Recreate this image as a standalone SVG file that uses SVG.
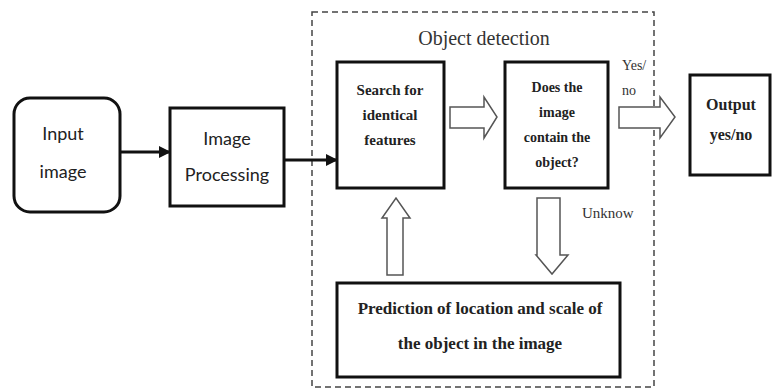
<svg xmlns="http://www.w3.org/2000/svg" width="773" height="392" viewBox="0 0 773 392">
<defs>
<style>
.box{fill:#fff;stroke:#111;stroke-width:3}
.sans{font-family:Lato,"Open Sans","Liberation Sans",sans-serif;font-size:18px;fill:#222;text-anchor:middle}
.serifb{font-family:"Liberation Serif","Times New Roman",serif;font-weight:bold;fill:#222;text-anchor:middle}
.serif{font-family:"Liberation Serif","Times New Roman",serif;fill:#333}
.hollow{fill:#fff;stroke:#555;stroke-width:1.5;stroke-linejoin:miter}
.line{stroke:#111;stroke-width:3;fill:none}
</style>
<marker id="ah" markerWidth="12" markerHeight="12" refX="11" refY="6" orient="auto" markerUnits="userSpaceOnUse">
<path d="M0,0 L12,6 L0,12 Z" fill="#111"/>
</marker>
</defs>
<rect width="773" height="392" fill="#fff"/>
<g id="object-detection">
<rect x="312" y="12" width="342" height="375" fill="none" stroke="#444" stroke-width="1.5" stroke-dasharray="6,4"/>
<text x="484" y="45" class="serif" font-size="20" text-anchor="middle">Object detection</text>
</g>
<g id="connectors">
<line x1="120" y1="152" x2="170" y2="152" class="line" marker-end="url(#ah)"/>
<line x1="284" y1="160" x2="337" y2="160" class="line" marker-end="url(#ah)"/>
<path class="hollow" d="M450,107 L484,107 L484,97 L497,117 L484,138 L484,128 L450,128 Z"/>
<path class="hollow" d="M619,107 L660,107 L660,97 L675,117 L660,138 L660,128 L619,128 Z"/>
<path class="hollow" d="M387,275 L387,218 L382,218 L396,198 L410,218 L403,218 L403,275 Z"/>
<path class="hollow" d="M537,198 L560,198 L560,255 L568,255 L552,274 L536,255 L537,255 Z"/>
<text x="622" y="70" class="serif" font-size="14" fill="#555">Yes/</text>
<text x="622" y="95" class="serif" font-size="14" fill="#555">no</text>
<text x="582" y="218" class="serif" font-size="15">Unknow</text>
</g>
<g id="input-image">
<rect x="14" y="98" width="106" height="114" rx="16" class="box" stroke-width="2.5"/>
<text x="63" y="140" class="sans">Input</text>
<text x="63" y="178" class="sans">image</text>
</g>
<g id="image-processing">
<rect x="170" y="108" width="114" height="98" class="box"/>
<text x="227" y="145" class="sans">Image</text>
<text x="227" y="181" class="sans">Processing</text>
</g>
<g id="search">
<rect x="337" y="62" width="107" height="126" class="box"/>
<text class="serifb" font-size="15"><tspan x="390" y="95">Search for</tspan><tspan x="390" y="120">identical</tspan><tspan x="390" y="145">features</tspan></text>
</g>
<g id="contain">
<rect x="505" y="62" width="103" height="126" class="box"/>
<text class="serifb" font-size="14"><tspan x="557" y="92">Does the</tspan><tspan x="557" y="117">image</tspan><tspan x="557" y="142">contain the</tspan><tspan x="557" y="167">object?</tspan></text>
</g>
<g id="output">
<rect x="690" y="75" width="80" height="100" class="box"/>
<text class="serifb" font-size="16"><tspan x="731" y="110">Output</tspan><tspan x="731" y="140">yes/no</tspan></text>
</g>
<g id="prediction">
<rect x="337" y="283" width="283" height="94" class="box"/>
<text class="serifb" font-size="17"><tspan x="480" y="314">Prediction of location and scale of</tspan><tspan x="480" y="349">the object in the image</tspan></text>
</g>
</svg>
